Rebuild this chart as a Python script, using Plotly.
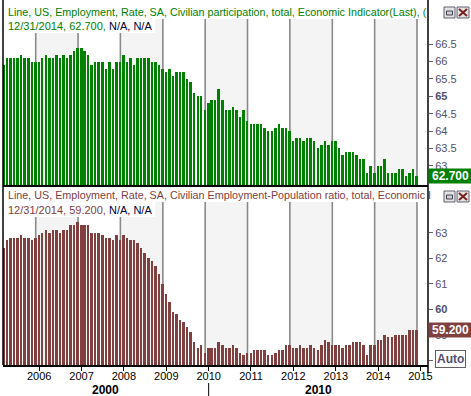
import pandas as pd
import plotly.graph_objects as go

# ---------------- data ----------------
months = pd.date_range("2005-03-31", "2014-12-31", freq="ME")

participation = [
    65.9, 66.1, 66.1, 66.1, 66.1, 66.2, 66.1, 66.1, 66.0, 66.0,
    66.0, 66.1, 66.2, 66.1, 66.1, 66.2, 66.1, 66.2, 66.1, 66.2, 66.3, 66.4,
    66.4, 66.3, 66.2, 65.9, 66.0, 66.0, 66.0, 65.8, 66.0, 65.8, 66.0, 66.0,
    66.2, 66.0, 66.1, 65.9, 66.1, 66.1, 66.1, 66.1, 66.0, 66.0, 65.9, 65.8,
    65.7, 65.8, 65.6, 65.7, 65.7, 65.7, 65.5, 65.4, 65.1, 65.0, 65.0, 64.6,
    64.8, 64.9, 64.9, 65.2, 64.9, 64.6, 64.6, 64.7, 64.6, 64.4, 64.6, 64.3,
    64.2, 64.2, 64.2, 64.2, 64.1, 64.0, 64.0, 64.1, 64.2, 64.1, 64.1, 64.0,
    63.7, 63.8, 63.8, 63.7, 63.8, 63.8, 63.7, 63.5, 63.6, 63.7, 63.6, 63.7,
    63.7, 63.5, 63.3, 63.4, 63.4, 63.4, 63.3, 63.2, 63.2, 62.8, 63.0, 62.8,
    63.0, 63.0, 63.2, 62.8, 62.8, 62.8, 62.9, 62.9, 62.7, 62.8, 62.9, 62.7,
]

emp_pop = [
    62.4, 62.7, 62.8, 62.8, 62.8, 62.9, 62.8, 62.8, 62.7, 62.8,
    62.9, 63.0, 63.1, 63.0, 63.1, 63.1, 63.0, 63.1, 63.1, 63.3, 63.3, 63.4,
    63.3, 63.3, 63.3, 63.0, 63.0, 63.0, 62.9, 62.8, 62.8, 62.7, 62.9, 62.7,
    62.9, 62.8, 62.7, 62.7, 62.6, 62.4, 62.2, 62.0, 61.9, 61.7, 61.4, 61.0,
    60.6, 60.3, 59.9, 59.8, 59.6, 59.5, 59.3, 59.1, 58.7, 58.5, 58.6, 58.3,
    58.5, 58.5, 58.5, 58.7, 58.6, 58.5, 58.5, 58.6, 58.5, 58.3, 58.2, 58.3,
    58.3, 58.4, 58.4, 58.4, 58.4, 58.2, 58.2, 58.3, 58.4, 58.4, 58.6, 58.6,
    58.5, 58.5, 58.6, 58.5, 58.5, 58.6, 58.5, 58.4, 58.6, 58.8, 58.7, 58.6,
    58.6, 58.6, 58.5, 58.6, 58.6, 58.7, 58.7, 58.7, 58.6, 58.2, 58.6, 58.6,
    58.8, 58.8, 59.0, 58.9, 58.9, 59.0, 59.0, 59.0, 59.0, 59.2, 59.2, 59.2,
]

grid_years = list(range(2006, 2016))
shaded_years = [2006, 2008, 2010, 2012, 2014]
tick_years = list(range(2006, 2016))
decade_labels = ["2000", "2010"]

top_tickvals = [63, 63.5, 64, 64.5, 65, 65.5, 66, 66.5]
top_ticktext = ["63", "63.5", "64", "64.5", "<b>65</b>", "65.5", "66", "66.5"]
bot_tickvals = [58, 59, 60, 61, 62, 63]
bot_ticktext = ["", "59", "<b>60</b>", "61", "62", "63"]

top_title = "Line, US, Employment, Rate, SA, Civilian participation, total, Economic Indicator(Last), ("
bot_title = "Line, US, Employment, Rate, SA, Civilian Employment-Population ratio, total, Economic I"

# ---------------- styling ----------------
GREEN = "#008000"
MAROON = "#804040"
NAVY = "#000040"
TICKC = "#505070"
FONT = "Liberation Sans"
x_range = [pd.Timestamp("2005-03-25"), pd.Timestamp("2015-04-06")]
bar_w = 17 * 24 * 3600 * 1000

fig = go.Figure()
fig.add_trace(go.Bar(x=months, y=participation, marker=dict(color=GREEN, line=dict(width=0)),
                     width=bar_w, xaxis="x", yaxis="y", showlegend=False, hoverinfo="skip"))
fig.add_trace(go.Bar(x=months, y=emp_pop, marker=dict(color=MAROON, line=dict(width=0)),
                     width=bar_w, xaxis="x2", yaxis="y2", showlegend=False, hoverinfo="skip"))

shapes = []
for xr, yr in (("x", "y domain"), ("x2", "y2 domain")):
    for yv in shaded_years:
        shapes.append(dict(type="rect", xref=xr, yref=yr, x0=f"{yv}-01-01", x1=f"{yv+1}-01-01",
                           y0=0, y1=1, fillcolor="#F4F4F4", line=dict(width=0), layer="below"))
    for yv in grid_years:
        shapes.append(dict(type="line", xref=xr, yref=yr, x0=f"{yv}-01-01", x1=f"{yv}-01-01",
                           y0=0, y1=1, line=dict(color="#8A8A8A", width=1.6), layer="below"))

# white backing of the second title lines
top_dom = [1 - 185 / 365, 1 - 19 / 365]
bot_dom = [0, 1 - 202 / 365]
shapes.append(dict(type="rect", xref="paper", yref="paper", x0=0.003, x1=0.358,
                   y0=1 - 33 / 365, y1=top_dom[1], fillcolor="white", line=dict(width=0), layer="above"))
shapes.append(dict(type="rect", xref="paper", yref="paper", x0=0.003, x1=0.358,
                   y0=1 - 217 / 365, y1=bot_dom[1], fillcolor="white", line=dict(width=0), layer="above"))

# frame lines
shapes.append(dict(type="line", xref="paper", yref="paper", x0=0, x1=0, y0=0, y1=1,
                   line=dict(color="black", width=1.5), layer="above"))
shapes.append(dict(type="line", xref="paper", yref="paper", x0=1, x1=1, y0=1 - 373 / 365, y1=1,
                   line=dict(color="black", width=1.5), layer="above"))

# window buttons
def px(xp):
    return (xp - 3) / 425

def py(yp):
    return 1 - yp / 365

for top in (7, 191):
    shapes.append(dict(type="rect", xref="paper", yref="paper", x0=px(444), x1=px(455),
                       y0=py(top + 11), y1=py(top), fillcolor="#E4E4E4", line=dict(color="#606070", width=1)))
    shapes.append(dict(type="rect", xref="paper", yref="paper", x0=px(446.5), x1=px(452.5),
                       y0=py(top + 8), y1=py(top + 4), fillcolor="#D0D0D0", line=dict(color="#404050", width=1)))
    shapes.append(dict(type="rect", xref="paper", yref="paper", x0=px(457), x1=px(469),
                       y0=py(top + 11), y1=py(top), fillcolor="#E4E4E4", line=dict(color="#606070", width=1)))
    shapes.append(dict(type="line", xref="paper", yref="paper", x0=px(459), x1=px(467),
                       y0=py(top + 9), y1=py(top + 2), line=dict(color="#7A2020", width=2)))
    shapes.append(dict(type="line", xref="paper", yref="paper", x0=px(459), x1=px(467),
                       y0=py(top + 2), y1=py(top + 9), line=dict(color="#7A2020", width=2)))

# decade separator
sep_date = pd.Timestamp("2010-01-31")
shapes.append(dict(type="line", xref="x2", yref="paper", x0=sep_date, x1=sep_date,
                   y0=py(396), y1=py(383), line=dict(color="black", width=1)))

annotations = []
last_date = months[-1].strftime("%m/%d/%Y")
for title, color, y1, y2, val, yref in (
        (top_title, GREEN, 12, 26, participation[-1], "y"),
        (bot_title, MAROON, 195, 209.5, emp_pop[-1], "y2")):
    annotations.append(dict(xref="paper", yref="paper", x=px(6), y=py(y1), xanchor="left",
                            yanchor="middle", showarrow=False, text=title,
                            font=dict(family=FONT, size=10.75, color=color)))
    annotations.append(dict(xref="paper", yref="paper", x=px(6), y=py(y2), xanchor="left",
                            yanchor="middle", showarrow=False,
                            text=f"{last_date}, {val:.3f}, <span style='color:{NAVY}'>N/A, N/A</span>",
                            font=dict(family=FONT, size=11, color=color)))
    annotations.append(dict(xref="paper", yref=yref, x=1.0, y=val, xanchor="left", yanchor="middle",
                            showarrow=False, text=f"<b>{val:.3f}</b>", bgcolor=color, width=41,
                            height=12, borderpad=1, font=dict(family=FONT, size=12, color="white")))

annotations.append(dict(xref="paper", yref="paper", x=px(435), y=py(358.5), xanchor="left",
                        yanchor="middle", showarrow=False, text="<b>Auto</b>", bgcolor="white",
                        bordercolor="#606060", borderwidth=1, borderpad=1,
                        font=dict(family=FONT, size=12, color=TICKC)))

mid_2000 = x_range[0] + (sep_date - x_range[0]) / 2
mid_2010 = sep_date + (x_range[1] - sep_date) / 2
for lab, xd in zip(decade_labels, (mid_2000, mid_2010)):
    annotations.append(dict(xref="x2", yref="paper", x=xd, y=py(389.5), xanchor="center",
                            yanchor="middle", showarrow=False, text=f"<b>{lab}</b>",
                            font=dict(family=FONT, size=12, color="black")))

tick_dates = [pd.Timestamp(f"{y}-01-31") for y in tick_years]

fig.update_layout(
    width=471, height=396,
    margin=dict(l=3, r=43, t=0, b=31),
    paper_bgcolor="white", plot_bgcolor="white",
    bargap=0, barmode="overlay",
    font=dict(family=FONT, size=11, color="black"),
    shapes=shapes, annotations=annotations,
    xaxis=dict(type="date", range=x_range, domain=[0, 1], anchor="y", showticklabels=False,
               ticks="", showgrid=False, zeroline=False, showline=True, linecolor="black",
               linewidth=2),
    yaxis=dict(domain=top_dom, range=[62.4437, 67.2289], side="right", anchor="x",
               tickvals=top_tickvals, ticktext=top_ticktext, ticks="outside", ticklen=4,
               tickcolor="#606060", tickwidth=1, showgrid=False, zeroline=False, showline=False,
               tickfont=dict(family=FONT, size=11, color=TICKC)),
    xaxis2=dict(type="date", range=x_range, domain=[0, 1], anchor="y2", tickvals=tick_dates,
                ticktext=[str(y) for y in tick_years], ticks="outside", ticklen=4,
                tickcolor="black", showgrid=False, zeroline=False, showline=True,
                linecolor="black", linewidth=2, tickangle=0, ticklabelstandoff=-4,
                tickfont=dict(family=FONT, size=11, color="black")),
    yaxis2=dict(domain=bot_dom, range=[57.818, 64.2025], side="right", anchor="x2",
                tickvals=bot_tickvals, ticktext=bot_ticktext, ticks="outside", ticklen=4,
                tickcolor="#606060", tickwidth=1, showgrid=False, zeroline=False, showline=False,
                tickfont=dict(family=FONT, size=11, color=TICKC)),
)

fig.write_html("out.html", config={"displayModeBar": False},
               post_script="document.body.style.margin='0';")
